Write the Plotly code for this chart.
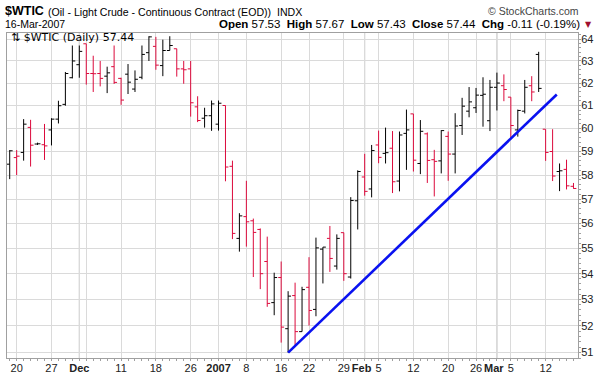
import math
import pandas as pd
import plotly.graph_objects as go

# ---------------- data ----------------
holidays = ["2006-12-25", "2007-01-01", "2007-01-15", "2007-02-19"]
dates = [d.strftime("%Y-%m-%d") for d in
         pd.bdate_range("2006-11-17", "2007-03-16", freq="C", holidays=holidays)]

opens = [58.46, 58.74, 58.96, 60.04, 59.32, 59.29, 59.93, 60.40, 61.05, 62.24,
         62.83, 63.79, 62.43, 62.43, 62.31, 62.74, 62.21, 62.40, 61.73, 62.26,
         63.38, 63.67, 62.79, 63.48, 63.56, 62.64, 62.64, 60.94, 60.44, 60.55,
         60.18, 61.00, 58.37, 55.40, 56.28, 56.11, 55.76, 54.48, 52.88, 53.85,
         51.89, 53.15, 51.78, 53.47, 52.62, 54.97, 55.40, 54.30, 55.63, 53.87,
         56.93, 57.92, 57.42, 59.28, 58.92, 59.14, 57.75, 59.78, 60.63, 58.49,
         59.76, 58.65, 58.60, 59.65, 58.89, 60.12, 60.75, 60.90, 61.45, 60.33,
         61.81, 61.88, 61.37, 59.93, 60.75, 61.88, 63.30, 59.96, 59.00, 58.15,
         58.24, 57.53]
highs = [59.06, 59.06, 60.40, 60.37, 59.38, 60.19, 60.44, 61.21, 62.50, 63.71,
         63.71, 63.79, 63.24, 63.00, 62.74, 63.71, 62.24, 62.86, 62.57, 63.71,
         64.14, 64.11, 63.98, 64.14, 63.56, 63.00, 63.00, 61.41, 60.90, 61.22,
         61.22, 61.00, 58.61, 56.42, 57.76, 56.20, 55.80, 55.47, 54.04, 54.48,
         53.32, 53.65, 53.49, 54.65, 55.43, 55.05, 55.90, 55.56, 55.63, 57.08,
         58.20, 58.90, 59.28, 59.90, 60.03, 59.88, 59.86, 60.82, 60.63, 60.36,
         59.82, 59.07, 59.92, 59.86, 60.66, 61.34, 61.82, 61.78, 62.26, 62.14,
         62.47, 62.39, 61.37, 60.82, 62.14, 62.31, 63.42, 59.96, 59.96, 58.49,
         58.65, 57.67]
lows = [57.83, 58.00, 58.61, 58.36, 59.28, 58.64, 59.26, 60.21, 60.99, 62.21,
        62.24, 61.93, 61.60, 61.85, 61.55, 61.96, 61.03, 61.51, 61.60, 62.17,
        63.00, 62.60, 62.31, 63.48, 62.29, 61.97, 60.51, 60.27, 60.03, 59.89,
        59.90, 57.74, 55.37, 54.87, 55.07, 53.87, 53.40, 52.72, 52.40, 51.37,
        51.00, 51.28, 51.78, 52.01, 52.36, 53.62, 54.07, 54.16, 53.72, 53.81,
        55.76, 57.14, 57.07, 58.50, 58.49, 57.25, 57.32, 58.22, 58.15, 58.04,
        57.67, 57.11, 58.07, 57.76, 58.07, 59.71, 60.48, 60.67, 60.07, 59.88,
        60.78, 61.19, 59.53, 59.64, 60.65, 61.19, 61.60, 58.60, 57.75, 57.33,
        57.40, 57.43]
closes = [59.03, 58.80, 60.18, 59.27, 59.33, 59.24, 60.40, 60.99, 62.43, 63.00,
          63.44, 62.43, 62.42, 62.21, 62.46, 62.03, 61.24, 62.04, 62.17, 63.30,
          64.11, 62.81, 63.48, 63.71, 62.64, 62.60, 61.12, 60.34, 60.55, 61.07,
          61.10, 58.34, 55.60, 56.31, 56.07, 55.64, 54.00, 52.85, 53.85, 51.95,
          53.13, 51.78, 53.38, 52.58, 55.02, 55.05, 54.60, 55.40, 54.00, 56.94,
          58.15, 57.32, 59.04, 58.75, 58.95, 57.72, 59.71, 59.93, 58.63, 59.87,
          58.62, 58.58, 59.90, 58.89, 60.10, 60.97, 61.16, 61.46, 61.50, 61.81,
          62.00, 61.71, 60.12, 60.78, 61.81, 61.60, 61.76, 58.96, 57.96, 58.18,
          57.55, 57.44]

# trend line (bar index, price)
trend_x = [40, 78.6]
trend_y = [51.0, 61.49]

tick_dates = ["2006-11-20", "2006-11-27", "2006-12-01", "2006-12-04", "2006-12-11",
              "2006-12-18", "2006-12-26", "2007-01-02", "2007-01-08", "2007-01-16",
              "2007-01-22", "2007-01-29", "2007-02-01", "2007-02-05", "2007-02-12",
              "2007-02-20", "2007-02-26", "2007-03-01", "2007-03-05", "2007-03-12"]
tick_text = ["20", "27", "<b>Dec</b>", "", "11", "18", "26", "<b>2007</b>", "8", "16",
             "22", "29", "<b>Feb</b>\u00a0\u00a0", "5", "12", "20", "26",
             "<b>Mar</b>\u00a0\u00a0", "5", "12"]
month_dates = ["2006-12-01", "2007-01-02", "2007-02-01", "2007-03-01"]
y_ticks = list(range(51, 65))

# ---------------- figure ----------------
n = len(dates)
idx = list(range(n))
BLACK = "#000000"
RED = "#dc0a3c"

up = [i for i in idx if i == 0 or closes[i] >= closes[i - 1]]
down = [i for i in idx if i not in up]

fig = go.Figure()
for sel, col in ((up, BLACK), (down, RED)):
    fig.add_trace(go.Ohlc(
        x=[idx[i] for i in sel],
        open=[opens[i] for i in sel], high=[highs[i] for i in sel],
        low=[lows[i] for i in sel], close=[closes[i] for i in sel],
        increasing=dict(line=dict(color=col, width=1)),
        decreasing=dict(line=dict(color=col, width=1)),
        tickwidth=0.42, showlegend=False,
        text=[dates[i] for i in sel], hoverinfo="text+x+y"))

fig.add_trace(go.Scatter(x=trend_x, y=trend_y, mode="lines",
                         line=dict(color="#0a12f0", width=2.6),
                         showlegend=False, hoverinfo="skip"))

# plot area in pixels
L, R, T, B = 7, 578, 33, 358
W, H = 600, 376

def px(x):
    return (x - L) / (R - L)

def py(y):
    return (B - y) / (B - T)

shapes = []
for d in month_dates:
    xi = dates.index(d)
    shapes.append(dict(type="line", xref="x", yref="paper", x0=xi, x1=xi, y0=0, y1=1,
                       line=dict(color="#b4b4b4", width=1), layer="below"))

FONT = "Liberation Sans, Arial, sans-serif"
ann = [
    dict(text="<b>$WTIC</b>", x=px(3), y=py(11), xanchor="left", yanchor="middle",
         font=dict(size=12.5, family=FONT, color="#000")),
    dict(text="(Oil - Light Crude - Continuous Contract (EOD))  INDX", x=px(46), y=py(12),
         xanchor="left", yanchor="middle", font=dict(size=10.6, family=FONT, color="#000")),
    dict(text="\u00a9 StockCharts.com", x=px(581), y=py(11), xanchor="right", yanchor="middle",
         font=dict(size=10.5, family=FONT, color="#444")),
    dict(text="16-Mar-2007", x=px(3), y=py(24), xanchor="left", yanchor="middle",
         font=dict(size=10.5, family=FONT, color="#000")),
    dict(text="<b>Open</b> 57.53  <b>High</b> 57.67  <b>Low</b> 57.43  <b>Close</b> 57.44  "
              "<b>Chg</b> -0.11 (-0.19%)",
         x=px(582), y=py(24), xanchor="right", yanchor="middle",
         font=dict(size=11.5, family=FONT, color="#000")),
    dict(text="\u25bc", x=px(588), y=py(25), xanchor="center", yanchor="middle",
         font=dict(size=8, family="DejaVu Sans", color="#a0102e")),
    dict(text="\u21c5 $WTIC (Daily) 57.44", x=px(9), y=py(38), xanchor="left", yanchor="middle",
         font=dict(size=11, family="DejaVu Sans, sans-serif", color="#000")),
]
for a in ann:
    a.update(xref="paper", yref="paper", showarrow=False)

minor_y = [round(50.8 + 0.2 * k, 1) for k in range(69)]

fig.update_layout(
    template="none",
    width=W, height=H,
    margin=dict(l=L, r=W - R, t=T, b=H - B, pad=0, autoexpand=False),
    paper_bgcolor="white", plot_bgcolor="white",
    shapes=shapes, annotations=ann,
    xaxis=dict(range=[-0.39, 81.65], rangeslider=dict(visible=False), automargin=False,
               tickmode="array", tickvals=[dates.index(d) for d in tick_dates],
               ticktext=tick_text, tickangle=0, showgrid=True, gridcolor="#dadada",
               gridwidth=1, zeroline=False, showline=True, linecolor="#a0a0a0",
               linewidth=1, mirror=True, ticks="",
               tickfont=dict(size=11, family=FONT, color="#222"),
               minor=dict(dtick=1, tick0=0, ticks="outside", ticklen=2,
                          tickcolor="#a0a0a0", showgrid=False)),
    yaxis=dict(type="log", side="right", automargin=False,
               range=[math.log10(50.80), math.log10(64.29)],
               tickmode="array", tickvals=y_ticks, ticktext=[str(v) for v in y_ticks],
               showgrid=True, gridcolor="#dadada", gridwidth=1, zeroline=False,
               showline=True, linecolor="#a0a0a0", linewidth=1, mirror=True, ticks="",
               tickfont=dict(size=11, family=FONT, color="#222"),
               minor=dict(tickmode="array", tickvals=minor_y, ticks="outside", ticklen=2,
                          tickcolor="#a0a0a0", showgrid=False)),
)

fig.write_html("out.html", config={"displayModeBar": False},
               post_script="document.body.style.margin='0';document.body.style.padding='0';")
